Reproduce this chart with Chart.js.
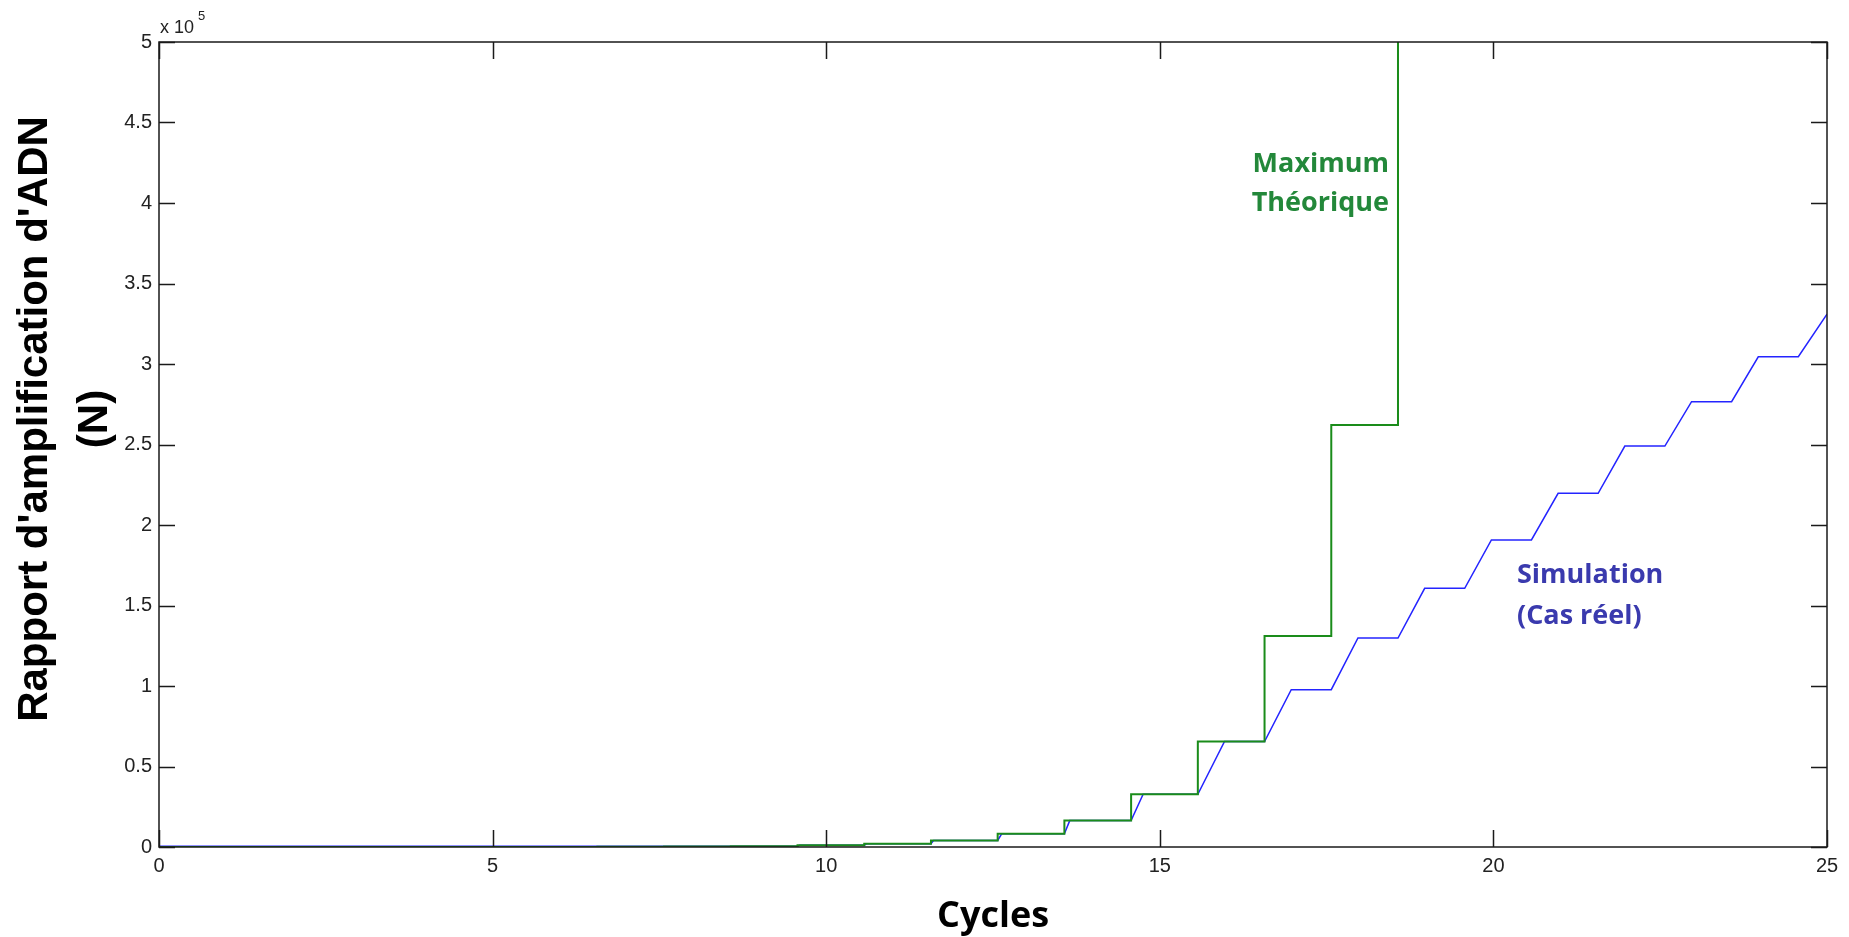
<!DOCTYPE html>
<html>
<head>
<meta charset="utf-8">
<script src="https://cdn.jsdelivr.net/npm/chart.js@4"></script>
<style>
  html, body { margin: 0; padding: 0; background: #fff; }
  #wrap { width: 1849px; height: 937px; position: relative; }
</style>
</head>
<body>
<div id="wrap"><canvas id="pcrChart"></canvas></div>
<script>
// theoretical maximum (2^n), step curve
const maxCycles = [0, 0.57, 1.57, 2.57, 3.57, 4.57, 5.57, 6.57, 7.57, 8.57, 9.57, 10.57, 11.57, 12.57, 13.57, 14.57, 15.57, 16.57, 17.57, 18.57, 25];
const maxValues = [1, 2, 4, 8, 16, 32, 64, 128, 256, 512, 1024, 2048, 4096, 8192, 16384, 32768, 65536, 131072, 262144, 524288, 524288];

// simulation (cas reel)
const simCycles = [0, 9.57, 9.6, 10.57, 10.61, 11.57, 11.61, 12.57, 12.63, 13.57, 13.65, 14.57, 14.75, 15.57, 15.97, 16.57, 16.97, 17.57, 17.97, 18.57, 18.97, 19.57, 19.97, 20.57, 20.97, 21.57, 21.97, 22.57, 22.97, 23.57, 23.97, 24.57, 25];
const simValues = [512, 512, 1024, 1024, 2048, 2048, 4096, 4096, 8192, 8192, 16384, 16384, 32768, 32768, 65536, 65536, 97700, 97700, 129800, 129800, 160700, 160700, 190700, 190700, 219700, 219700, 249000, 249000, 276600, 276600, 304500, 304500, 331000];

const xTicks = [0, 5, 10, 15, 20, 25];
const yTicks = [0, 0.5, 1, 1.5, 2, 2.5, 3, 3.5, 4, 4.5, 5]; // x 10^5

const frame = {
    id: 'frame',
    afterDraw(chart) {
        const ctx = chart.ctx;
        const a = chart.chartArea;
        const xs = chart.scales.x, ys = chart.scales.y;
        ctx.save();
        ctx.strokeStyle = '#1a1a1a';
        ctx.lineWidth = 1.5;
        ctx.strokeRect(a.left, a.top, a.right - a.left, a.bottom - a.top);
        ctx.beginPath();
        xs.ticks.forEach(function (t) {
            const px = Math.round(xs.getPixelForValue(t.value)) + 0.5;
            ctx.moveTo(px, a.bottom); ctx.lineTo(px, a.bottom - 17);
            ctx.moveTo(px, a.top); ctx.lineTo(px, a.top + 17);
        });
        ys.ticks.forEach(function (t) {
            const py = Math.round(ys.getPixelForValue(t.value)) + 0.5;
            ctx.moveTo(a.left, py); ctx.lineTo(a.left + 16, py);
            ctx.moveTo(a.right, py); ctx.lineTo(a.right - 16, py);
        });
        ctx.stroke();

        // exponent
        ctx.fillStyle = '#222';
        ctx.font = '18px "Liberation Sans"';
        ctx.textAlign = 'left';
        ctx.textBaseline = 'alphabetic';
        ctx.fillText('x 10', 160, 33);
        ctx.font = '13px "Liberation Sans"';
        ctx.fillText('5', 198, 20);

        // annotations
        ctx.font = 'bold 27px "Open Sans"';
        ctx.fillStyle = '#23883a';
        ctx.textAlign = 'right';
        ctx.fillText('Maximum', 1389, 172);
        ctx.fillText('Théorique', 1389, 211);
        ctx.fillStyle = '#3a3aae';
        ctx.textAlign = 'left';
        ctx.fillText('Simulation', 1517, 583);
        ctx.fillText('(Cas réel)', 1517, 624);

        // axis titles
        ctx.fillStyle = '#000';
        ctx.font = 'bold 36px "Open Sans"';
        ctx.textAlign = 'center';
        ctx.fillText('Cycles', (a.left + a.right) / 2, 927);

        ctx.font = 'bold 42px "Liberation Sans"';
        ctx.translate(47, 419);
        ctx.rotate(-Math.PI / 2);
        ctx.fillText("Rapport d'amplification d'ADN", 0, 0);
        ctx.fillText('(N)', 0, 60);
        ctx.restore();
    }
};

const ctx = document.getElementById('pcrChart').getContext('2d');
const pcrChart = new Chart(ctx, {
    type: 'line',
    data: {
        datasets: [{
            label: 'Maximum Théorique',
            data: maxCycles.map(function (c, i) { return { x: c, y: maxValues[i] }; }),
            borderColor: '#1a8c1a',
            borderWidth: 2,
            stepped: true,
            pointRadius: 0,
            fill: false
        }, {
            label: 'Simulation (Cas réel)',
            data: simCycles.map(function (c, i) { return { x: c, y: simValues[i] }; }),
            borderColor: '#2424ff',
            borderWidth: 1.5,
            tension: 0,
            pointRadius: 0,
            fill: false
        }]
    },
    options: {
        responsive: true,
        maintainAspectRatio: false,
        animation: false,
        layout: { padding: { top: 42, right: 22, left: 0, bottom: 0 } },
        plugins: {
            legend: { display: false },
            tooltip: { enabled: false },
            title: { display: false }
        },
        scales: {
            x: {
                type: 'linear',
                min: 0,
                max: 25,
                afterFit: function (s) { s.height = 90; },
                afterBuildTicks: function (s) { s.ticks = xTicks.map(function (v) { return { value: v }; }); },
                grid: { display: false, drawTicks: false },
                border: { display: false },
                ticks: {
                    padding: 7,
                    color: '#222',
                    font: { family: 'Liberation Sans', size: 20 },
                    maxRotation: 0
                }
            },
            y: {
                type: 'linear',
                min: 0,
                max: 500000,
                afterFit: function (s) { s.width = 159; },
                afterBuildTicks: function (s) { s.ticks = yTicks.map(function (v) { return { value: v * 100000 }; }); },
                grid: { display: false, drawTicks: false },
                border: { display: false },
                ticks: {
                    padding: 7,
                    color: '#222',
                    font: { family: 'Liberation Sans', size: 20 },
                    callback: function (v) { return String(v / 100000); }
                }
            }
        }
    },
    plugins: [frame]
});
</script>
</body>
</html>
